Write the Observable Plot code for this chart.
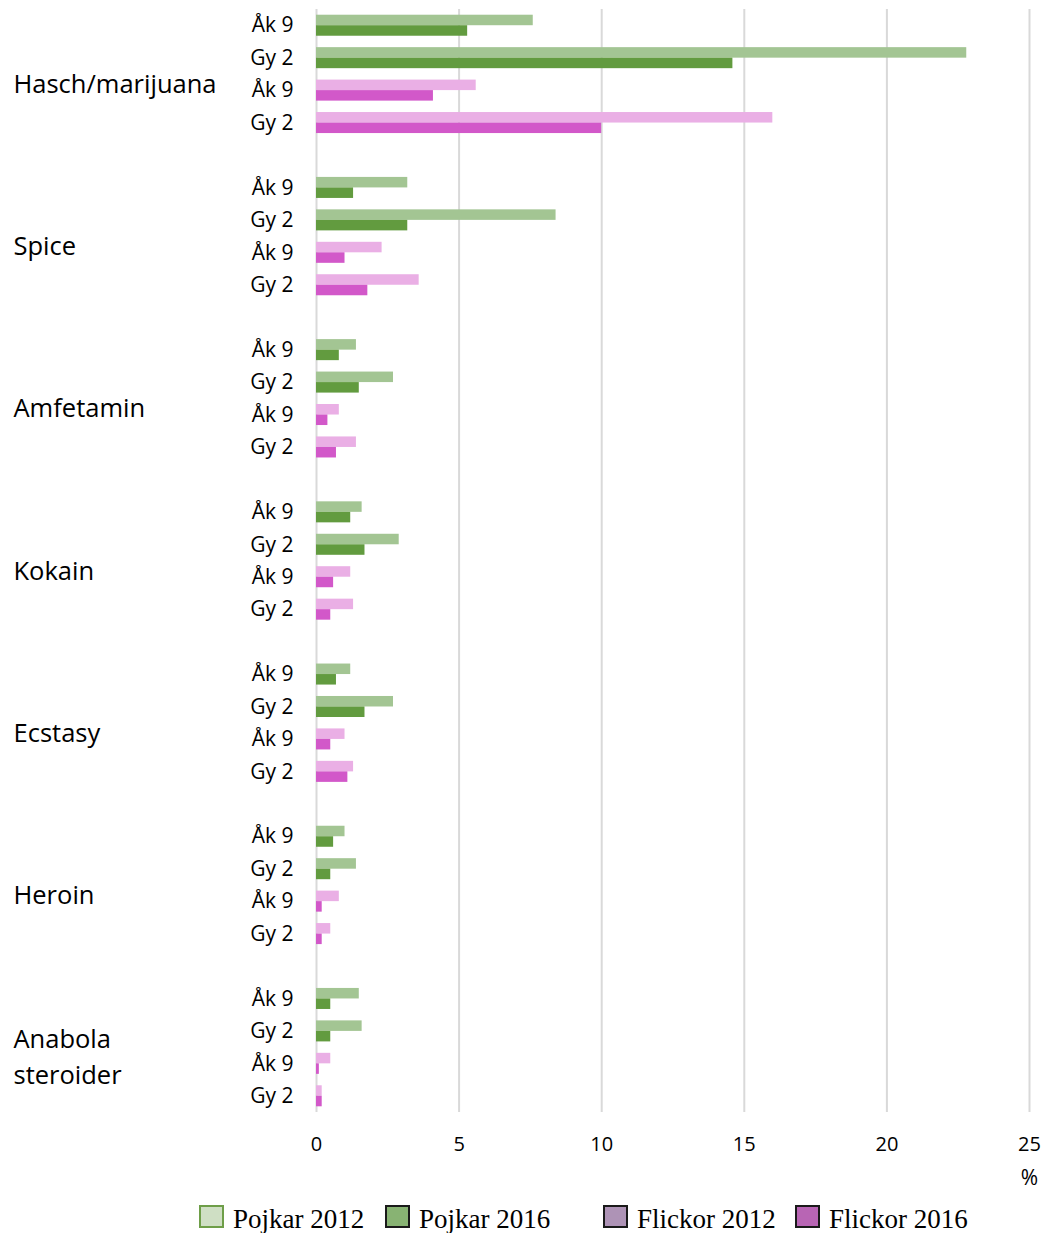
<!DOCTYPE html>
<html>
<head>
<meta charset="utf-8">
<script src="https://cdn.jsdelivr.net/npm/d3@7"></script>
<script src="https://cdn.jsdelivr.net/npm/@observablehq/plot@0.6"></script>
<style>
  body { margin: 0; background: #fff; }
  #legend { position: relative; height: 37px; width: 1042px; font-family: "Liberation Serif", "Times New Roman", serif; font-size: 27px; color: #000; }
  .item { position: absolute; top: 9px; display: flex; align-items: center; height: 23px; white-space: nowrap; }
  .sw { width: 25px; height: 23px; box-sizing: border-box; border: 2px solid #1a1a1a; margin-right: 9px; flex: none; }
  .lbl { position: relative; top: 3px; line-height: 23px; }
</style>
</head>
<body>
<div id="chart"></div>
<div id="legend"></div>
<script>
// ---- data ----
const categories = ["Hasch/marijuana", "Spice", "Amfetamin", "Kokain", "Ecstasy", "Heroin", "Anabola\nsteroider"];
const rowLabels = ["Åk 9", "Gy 2", "Åk 9", "Gy 2"];
const xTicks = [0, 5, 10, 15, 20, 25];
const seriesNames = ["Pojkar 2012", "Pojkar 2016", "Flickor 2012", "Flickor 2016"];

// values (%) per category, in the order of `categories`
const pojkar2012_ak9  = [7.6, 3.2, 1.4, 1.6, 1.2, 1.0, 1.5];
const pojkar2016_ak9  = [5.3, 1.3, 0.8, 1.2, 0.7, 0.6, 0.5];
const pojkar2012_gy2  = [22.8, 8.4, 2.7, 2.9, 2.7, 1.4, 1.6];
const pojkar2016_gy2  = [14.6, 3.2, 1.5, 1.7, 1.7, 0.5, 0.5];
const flickor2012_ak9 = [5.6, 2.3, 0.8, 1.2, 1.0, 0.8, 0.5];
const flickor2016_ak9 = [4.1, 1.0, 0.4, 0.6, 0.5, 0.2, 0.1];
const flickor2012_gy2 = [16.0, 3.6, 1.4, 1.3, 1.3, 0.5, 0.2];
const flickor2016_gy2 = [10.0, 1.8, 0.7, 0.5, 1.1, 0.2, 0.2];

// ---- styles ----
const barColors = ["#a3c593", "#629b3f", "#eaafe5", "#d258c9"];
const legendFills = ["#cfdfc4", "#88b373", "#ae93b6", "#b865b4"];
const legendBorders = ["#6e9e48", "#1a1a1a", "#1a1a1a", "#1a1a1a"];
const legendLeft = [199, 385, 603, 795];

// ---- build table ----
const rowSeries = [
  ["Pojkar", pojkar2012_ak9, pojkar2016_ak9],
  ["Pojkar", pojkar2012_gy2, pojkar2016_gy2],
  ["Flickor", flickor2012_ak9, flickor2016_ak9],
  ["Flickor", flickor2012_gy2, flickor2016_gy2]
];
const slotsPerGroup = 5; // 4 rows + 1 blank
const nSlots = categories.length * slotsPerGroup - 1;
const bars = [], rowsData = [], catData = [];
categories.forEach((cat, ci) => {
  const base = ci * slotsPerGroup;
  catData.push({name: cat, center: base + 2});
  rowSeries.forEach(([sex, a12, a16], r) => {
    const slot = base + r;
    rowsData.push({slot, label: rowLabels[r]});
    bars.push({slot, year: 2012, series: sex + " 2012", value: a12[ci]});
    bars.push({slot, year: 2016, series: sex + " 2016", value: a16[ci]});
  });
});

const barH = 0.324;

const chart = Plot.plot({
  width: 1042,
  height: 1196,
  marginTop: 9,
  marginBottom: 84,
  marginLeft: 316,
  marginRight: 13,
  style: {fontFamily: "'Open Sans', 'Noto Sans', sans-serif", fontSize: "20px", color: "#000", background: "#fff"},
  x: {domain: [0, 25], axis: null},
  y: {domain: [0, nSlots], reverse: true, axis: null},
  color: {domain: seriesNames, range: barColors},
  marks: [
    Plot.ruleX(xTicks, {stroke: "#d9d9d9", strokeWidth: 2}),
    Plot.rect(bars, {
      x1: 0,
      x2: "value",
      y1: d => d.slot + 0.5 - (d.year === 2012 ? barH : 0),
      y2: d => d.slot + 0.5 + (d.year === 2016 ? barH : 0),
      fill: "series"
    }),
    Plot.axisX(xTicks, {tickSize: 0, tickPadding: 24, fontSize: 20, label: null}),
    Plot.text(rowsData, {
      y: d => d.slot + 0.5, text: "label", frameAnchor: "left",
      textAnchor: "end", dx: -23, fontSize: 21, fill: "#000"
    }),
    Plot.text(catData, {
      y: "center", text: "name", frameAnchor: "left",
      textAnchor: "start", dx: -303, dy: 7, fontSize: 25.5, lineHeight: 1.41, fill: "#000"
    }),
    Plot.text(["%"], {frameAnchor: "bottom-right", dy: 72, textAnchor: "middle", fontSize: 21, fill: "#000"})
  ]
});
document.getElementById("chart").appendChild(chart);

// ---- legend ----
const legend = document.getElementById("legend");
seriesNames.forEach((name, i) => {
  const item = document.createElement("div");
  item.className = "item";
  item.style.left = legendLeft[i] + "px";
  const sw = document.createElement("span");
  sw.className = "sw";
  sw.style.background = legendFills[i];
  sw.style.borderColor = legendBorders[i];
  const t = document.createElement("span");
  t.className = "lbl";
  t.textContent = name;
  item.appendChild(sw);
  item.appendChild(t);
  legend.appendChild(item);
});
</script>
</body>
</html>
